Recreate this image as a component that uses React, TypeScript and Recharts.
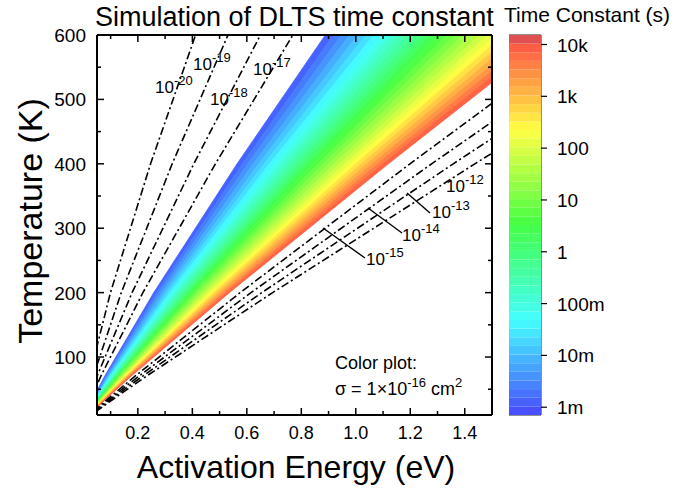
import React from 'react';
import { ComposedChart, Area, Line, XAxis, YAxis, BarChart, Bar, ReferenceArea } from 'recharts';

// temperature rows (K) where the contour positions were read
const tempRows = [15, 25, 40, 70, 200, 400, 600];

// colour plot contours, log10(time constant / s), sigma = 1e-16 cm2
const contourLevels = [
  -3, -2.75, -2.5, -2.25, -2, -1.75, -1.5, -1.25, -1, -0.75, -0.5, -0.25, 0, 0.25, 0.5,
  0.75, 1, 1.25, 1.5, 1.75, 2, 2.25, 2.5, 2.75, 3, 3.25, 3.5, 3.75, 4,
];

// activation energy (eV) of each contour at the temperature rows
const contourEa = [
  [0.01266, 0.02331, 0.04053, 0.07769, 0.25814, 0.56406, 0.88803],
  [0.01341, 0.02455, 0.04252, 0.08116, 0.26806, 0.5839, 0.91779],
  [0.01415, 0.02579, 0.0445, 0.08463, 0.27798, 0.60375, 0.94755],
  [0.0149, 0.02703, 0.04649, 0.0881, 0.2879, 0.62359, 0.97731],
  [0.01564, 0.02827, 0.04847, 0.09157, 0.29782, 0.64343, 1.00708],
  [0.01638, 0.02951, 0.05046, 0.09505, 0.30774, 0.66327, 1.03684],
  [0.01713, 0.03075, 0.05244, 0.09852, 0.31767, 0.68311, 1.0666],
  [0.01787, 0.03199, 0.05442, 0.10199, 0.32759, 0.70295, 1.09636],
  [0.01862, 0.03323, 0.05641, 0.10546, 0.33751, 0.72279, 1.12613],
  [0.01936, 0.03447, 0.05839, 0.10893, 0.34743, 0.74264, 1.15589],
  [0.0201, 0.03571, 0.06038, 0.11241, 0.35735, 0.76248, 1.18565],
  [0.02085, 0.03695, 0.06236, 0.11588, 0.36727, 0.78232, 1.21541],
  [0.02159, 0.03819, 0.06434, 0.11935, 0.37719, 0.80216, 1.24518],
  [0.02233, 0.03943, 0.06633, 0.12282, 0.38711, 0.822, 1.27494],
  [0.02308, 0.04067, 0.06831, 0.1263, 0.39703, 0.84184, 1.3047],
  [0.02382, 0.04191, 0.0703, 0.12977, 0.40695, 0.86168, 1.33446],
  [0.02457, 0.04315, 0.07228, 0.13324, 0.41687, 0.88153, 1.36423],
  [0.02531, 0.04439, 0.07426, 0.13671, 0.42679, 0.90137, 1.39399],
  [0.02605, 0.04563, 0.07625, 0.14019, 0.43671, 0.92121, 1.42375],
  [0.0268, 0.04687, 0.07823, 0.14366, 0.44664, 0.94105, 1.45351],
  [0.02754, 0.04811, 0.08022, 0.14713, 0.45656, 0.96089, 1.48327],
  [0.02829, 0.04935, 0.0822, 0.1506, 0.46648, 0.98073, 1.51304],
  [0.02903, 0.05059, 0.08418, 0.15407, 0.4764, 1.00058, 1.5428],
  [0.02977, 0.05183, 0.08617, 0.15755, 0.48632, 1.02042, 1.57256],
  [0.03052, 0.05307, 0.08815, 0.16102, 0.49624, 1.04026, 1.60232],
  [0.03126, 0.05431, 0.09014, 0.16449, 0.50616, 1.0601, 1.63208],
  [0.03201, 0.05555, 0.09212, 0.16796, 0.51608, 1.07994, 1.66185],
  [0.03275, 0.05679, 0.09411, 0.17144, 0.526, 1.09978, 1.69161],
  [0.03349, 0.05803, 0.09609, 0.17491, 0.53592, 1.11962, 1.72137],
];

// dash-dot lines for other capture cross sections (sigma exponent)
const sigmaExps = [-20, -19, -18, -17, -15, -14, -13, -12];
const sigmaEa = [
  [0.00076, 0.00347, 0.00879, 0.02213, 0.09941, 0.2466, 0.41183],
  [0.00374, 0.00843, 0.01672, 0.03602, 0.13909, 0.32597, 0.53088],
  [0.00671, 0.01339, 0.02466, 0.04991, 0.17878, 0.40533, 0.64993],
  [0.00969, 0.01835, 0.0326, 0.0638, 0.21846, 0.4847, 0.76898],
  [0.03647, 0.06299, 0.10403, 0.1888, 0.5756, 1.19899, 1.84042],
  [0.03945, 0.06795, 0.11196, 0.20269, 0.61529, 1.27836, 1.95947],
  [0.04242, 0.07291, 0.1199, 0.21658, 0.65497, 1.35772, 2.07852],
  [0.0454, 0.07787, 0.12783, 0.23047, 0.69465, 1.43709, 2.19757],
];

const xMajor = [0.2, 0.4, 0.6, 0.8, 1.0, 1.2, 1.4];
const xMinor = [0.1, 0.3, 0.5, 0.7, 0.9, 1.1, 1.3, 1.5];
const yMajor = [100, 200, 300, 400, 500, 600];
const yMinor = [50, 150, 250, 350, 450, 550];

// colour bar: log10 decades and their labels
const cbDecades = [-3, -2, -1, 0, 1, 2, 3, 4];
const cbLabels = ['1m', '10m', '100m', '1', '10', '100', '1k', '10k'];
const cbBottom = -3.15;
const cbBlocks = Array(44).fill(1 / 6);

const FONT = '"Liberation Sans", Arial, Helvetica, sans-serif';

const cmap: Array<[number, number[]]> = [
  [0, [72, 72, 255]],
  [0.25, [68, 255, 255]],
  [0.5, [68, 255, 68]],
  [0.75, [255, 255, 68]],
  [1, [255, 68, 68]],
];

function colorAt(f: number) {
  const t = Math.max(0, Math.min(1, f));
  for (let i = 1; i < cmap.length; i++) {
    const [f1, c1] = cmap[i];
    const [f0, c0] = cmap[i - 1];
    if (t <= f1) {
      const u = (t - f0) / (f1 - f0);
      const c = c0.map((v, k) => Math.round(v + (c1[k] - v) * u));
      return `rgb(${c[0]},${c[1]},${c[2]})`;
    }
  }
  return 'rgb(255,68,68)';
}

const cbSpan = cbBlocks.reduce((a, b) => a + b, 0);
const levelColor = (lv: number) => colorAt((lv - cbBottom) / cbSpan);

const chartData = tempRows.map((T, r) => ({
  T,
  c: contourEa.map((l) => l[r]),
  s: sigmaEa.map((l) => l[r]),
}));

const cbRow: Record<string, number | string> = { name: 'tau' };
cbBlocks.forEach((v, i) => {
  cbRow[`b${i}`] = v;
});
const cbData = [cbRow];

const isMajor = (v: number, majors: number[]) => majors.some((m) => Math.abs(m - v) < 1e-6);

const BottomTick = (props: any) => {
  const { x, y, payload } = props;
  const major = isMajor(payload.value, xMajor);
  return (
    <g>
      <line x1={x} y1={y} x2={x} y2={y - (major ? 7 : 4)} stroke="#000" strokeWidth={1.5} />
      {major && (
        <text x={x} y={y + 24} textAnchor="middle" fontSize={18} fontFamily={FONT} fill="#000">
          {payload.value.toFixed(1)}
        </text>
      )}
    </g>
  );
};

const TopTick = (props: any) => {
  const { x, y, payload } = props;
  const major = isMajor(payload.value, xMajor);
  return <line x1={x} y1={y} x2={x} y2={y + (major ? 7 : 4)} stroke="#000" strokeWidth={1.5} />;
};

const LeftTick = (props: any) => {
  const { x, y, payload } = props;
  const major = isMajor(payload.value, yMajor);
  return (
    <g>
      <line x1={x} y1={y} x2={x + (major ? 7 : 4)} y2={y} stroke="#000" strokeWidth={1.5} />
      {major && (
        <text x={x - 11} y={y + 7} textAnchor="end" fontSize={19} fontFamily={FONT} fill="#000">
          {payload.value}
        </text>
      )}
    </g>
  );
};

const RightTick = (props: any) => {
  const { x, y, payload } = props;
  const major = isMajor(payload.value, yMajor);
  return <line x1={x} y1={y} x2={x - (major ? 7 : 4)} y2={y} stroke="#000" strokeWidth={1.5} />;
};

const ColorBarTick = (props: any) => {
  const { x, y, payload } = props;
  const idx = cbDecades.findIndex((d) => Math.abs(d - cbBottom - payload.value) < 1e-6);
  return (
    <g>
      <line x1={x} y1={y} x2={x + 6} y2={y} stroke="#000" strokeWidth={1.2} />
      <text x={x + 16} y={y + 7} fontSize={19} fontFamily={FONT} fill="#000">
        {cbLabels[idx]}
      </text>
    </g>
  );
};

const axisLine = { stroke: '#000', strokeWidth: 2 };

const PowLabel = ({ x, y, exp }: { x: number; y: number; exp: number }) => (
  <text x={x} y={y} fontSize={17} fontFamily={FONT} fill="#000">
    10
    <tspan dy={-8} fontSize={13}>
      {exp}
    </tspan>
  </text>
);

// label anchors (pixel) for the sigma lines, and leader lines for the lower group
const sigmaLabelPos: Record<number, [number, number]> = {
  [-20]: [155, 93],
  [-19]: [193, 70],
  [-18]: [210, 105],
  [-17]: [253, 75],
  [-15]: [366, 265],
  [-14]: [402, 241],
  [-13]: [432, 218],
  [-12]: [446, 192],
};
const leaders = [
  [323, 228, 365, 258],
  [368, 208, 402, 233],
  [407, 193, 430, 213],
];

export default function App() {
  const allX = [...xMinor, ...xMajor].sort((a, b) => a - b);
  const allY = [...yMinor, ...yMajor].sort((a, b) => a - b);
  return (
    <div style={{ position: 'absolute', left: 0, top: 0, width: 687, height: 494, background: '#fff' }}>
      <div style={{ position: 'absolute', left: 0, top: 0 }}>
        <ComposedChart
          width={687}
          height={494}
          data={chartData}
          layout="vertical"
          margin={{ top: 34, right: 194, bottom: 78, left: 96 }}
        >
          <XAxis
            type="number"
            domain={[0.05, 1.5]}
            allowDataOverflow
            ticks={allX}
            interval={0}
            height={1}
            tickLine={false}
            tickSize={0}
            tickMargin={0}
            axisLine={axisLine}
            tick={<BottomTick />}
          />
          <XAxis
            xAxisId="top"
            orientation="top"
            type="number"
            domain={[0.05, 1.5]}
            allowDataOverflow
            ticks={allX}
            interval={0}
            height={1}
            tickLine={false}
            tickSize={0}
            tickMargin={0}
            axisLine={axisLine}
            tick={<TopTick />}
          />
          <YAxis
            type="number"
            dataKey="T"
            domain={[10, 600]}
            reversed
            allowDataOverflow
            ticks={allY}
            interval={0}
            width={1}
            tickLine={false}
            tickSize={0}
            tickMargin={0}
            axisLine={axisLine}
            tick={<LeftTick />}
          />
          <YAxis
            yAxisId="right"
            orientation="right"
            type="number"
            dataKey="T"
            domain={[10, 600]}
            reversed
            allowDataOverflow
            ticks={allY}
            interval={0}
            width={1}
            tickLine={false}
            tickSize={0}
            tickMargin={0}
            axisLine={axisLine}
            tick={<RightTick />}
          />
          {contourLevels.slice(0, -1).map((lv, i) => {
            const col = levelColor((lv + contourLevels[i + 1]) / 2);
            return (
              <Area
                key={`band-${i}`}
                type="linear"
                dataKey={(d: any) => [d.c[i], d.c[i + 1]]}
                fill={col}
                fillOpacity={1}
                stroke={col}
                strokeWidth={0.8}
                dot={false}
                activeDot={false}
                isAnimationActive={false}
              />
            );
          })}
          {sigmaExps.map((e, j) => (
            <Line
              key={`sig-${e}`}
              type="linear"
              dataKey={(d: any) => d.s[j]}
              stroke="#000"
              strokeWidth={1.6}
              strokeDasharray="8 3 2 3"
              dot={false}
              activeDot={false}
              isAnimationActive={false}
            />
          ))}
        </ComposedChart>
      </div>

      <div style={{ position: 'absolute', left: 509, top: 0 }}>
        <BarChart
          width={178}
          height={494}
          data={cbData}
          barCategoryGap={0}
          margin={{ top: 35, right: 145, bottom: 79, left: 0 }}
        >
          <XAxis dataKey="name" type="category" hide />
          <YAxis
            orientation="right"
            type="number"
            domain={[0, cbSpan]}
            ticks={cbDecades.map((d) => d - cbBottom)}
            interval={0}
            width={1}
            tickLine={false}
            tickSize={0}
            tickMargin={0}
            axisLine={false}
            tick={<ColorBarTick />}
          />
          {cbBlocks.map((v, i) => (
            <Bar
              key={`b${i}`}
              dataKey={`b${i}`}
              stackId="cb"
              fill={i === cbBlocks.length - 1 ? '#e05050' : colorAt((i + 0.5) / cbBlocks.length)}
              isAnimationActive={false}
            />
          ))}
          <ReferenceArea y1={0} y2={cbSpan} fill="none" stroke="#222" strokeWidth={1} />
        </BarChart>
      </div>

      <svg
        width={687}
        height={494}
        style={{ position: 'absolute', left: 0, top: 0, pointerEvents: 'none' }}
      >
        <text x={95} y={26} fontSize={27} fontFamily={FONT} fill="#000">
          Simulation of DLTS time constant
        </text>
        <text x={504} y={22} fontSize={21} fontFamily={FONT} fill="#000">
          Time Constant (s)
        </text>
        <text x={296} y={478} textAnchor="middle" fontSize={32} fontFamily={FONT} fill="#000">
          Activation Energy (eV)
        </text>
        <text
          transform="translate(42,221) rotate(-90)"
          textAnchor="middle"
          fontSize={34}
          fontFamily={FONT}
          fill="#000"
        >
          Temperature (K)
        </text>
        {sigmaExps.map((e) => (
          <PowLabel key={`lab${e}`} x={sigmaLabelPos[e][0]} y={sigmaLabelPos[e][1]} exp={e} />
        ))}
        {leaders.map((l, i) => (
          <line key={`ld${i}`} x1={l[0]} y1={l[1]} x2={l[2]} y2={l[3]} stroke="#000" strokeWidth={1.4} />
        ))}
        <text x={335} y={369} fontSize={18} fontFamily={FONT} fill="#000">
          Color plot:
        </text>
        <text x={335} y={395} fontSize={18} fontFamily={FONT} fill="#000">
          σ = 1×10
          <tspan dy={-8} fontSize={13}>
            -16
          </tspan>
          <tspan dy={8}> cm</tspan>
          <tspan dy={-8} fontSize={13}>
            2
          </tspan>
        </text>
      </svg>
    </div>
  );
}
